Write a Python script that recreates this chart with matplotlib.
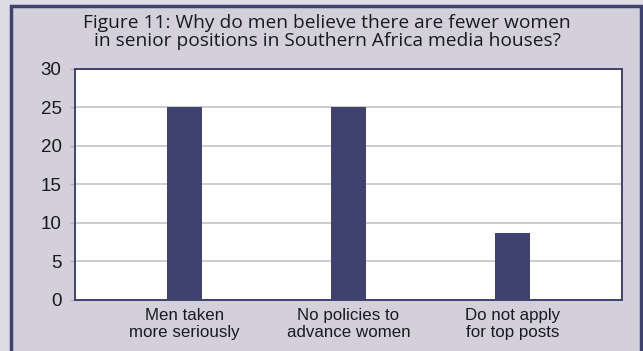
import matplotlib
matplotlib.use("Agg")
import matplotlib.pyplot as plt
from matplotlib.patches import Rectangle

categories = ["Men taken\nmore seriously", "No policies to\nadvance women", "Do not apply\nfor top posts"]
values = [25, 25, 8.7]
yticks = [0, 5, 10, 15, 20, 25, 30]
title_lines = ["Figure 11: Why do men believe there are fewer women",
               "in senior positions in Southern Africa media houses?"]

panel = "#D3D0DC"
outside = "#DDDBE4"
navy = "#3F416F"

W, H = 643, 351
fig = plt.figure(figsize=(W / 100, H / 100), dpi=100, facecolor=outside)

# framed panel: border on left, top and right
fig.patches.append(Rectangle((11 / W, -0.05), 630 / W, 1.05 - 5.5 / H,
                             transform=fig.transFigure, facecolor=panel,
                             edgecolor=navy, linewidth=2.5, zorder=-5))

ax = fig.add_axes([75 / W, 1 - 300 / H, 547 / W, 231.5 / H])
ax.set_zorder(2)
ax.set_facecolor("white")

x = list(range(len(categories)))
ax.bar(x, values, width=0.21, color=navy, zorder=3)
ax.set_xlim(-2 / 3, 8 / 3)
ax.set_ylim(0, 30)
ax.set_yticks(yticks)
ax.set_yticklabels([str(t) for t in yticks], fontsize=13.5, family="Liberation Sans",
                   color="#1a1a1a")
ax.set_xticks(x)
ax.set_xticklabels(categories, fontsize=12.2, family="Liberation Sans",
                   linespacing=1.1, color="#1a1a1a")
ax.tick_params(axis="x", length=0, pad=6)
ax.tick_params(axis="y", length=3.6, width=1.0, color="#B0B0B0", pad=6)
ax.grid(axis="y", color="#C8C8C8", linewidth=1.3, zorder=0)
for side in ["left", "bottom", "right", "top"]:
    ax.spines[side].set_color(navy)
    ax.spines[side].set_linewidth(1.4)

for i, line in enumerate(title_lines):
    fig.text(327 / W, 1 - (28 + 17.5 * i) / H, line, ha="center", va="baseline",
             fontsize=13.8, family="Open Sans", color="#1a1a1a")

fig.savefig("out.png", dpi=100, facecolor=outside)
